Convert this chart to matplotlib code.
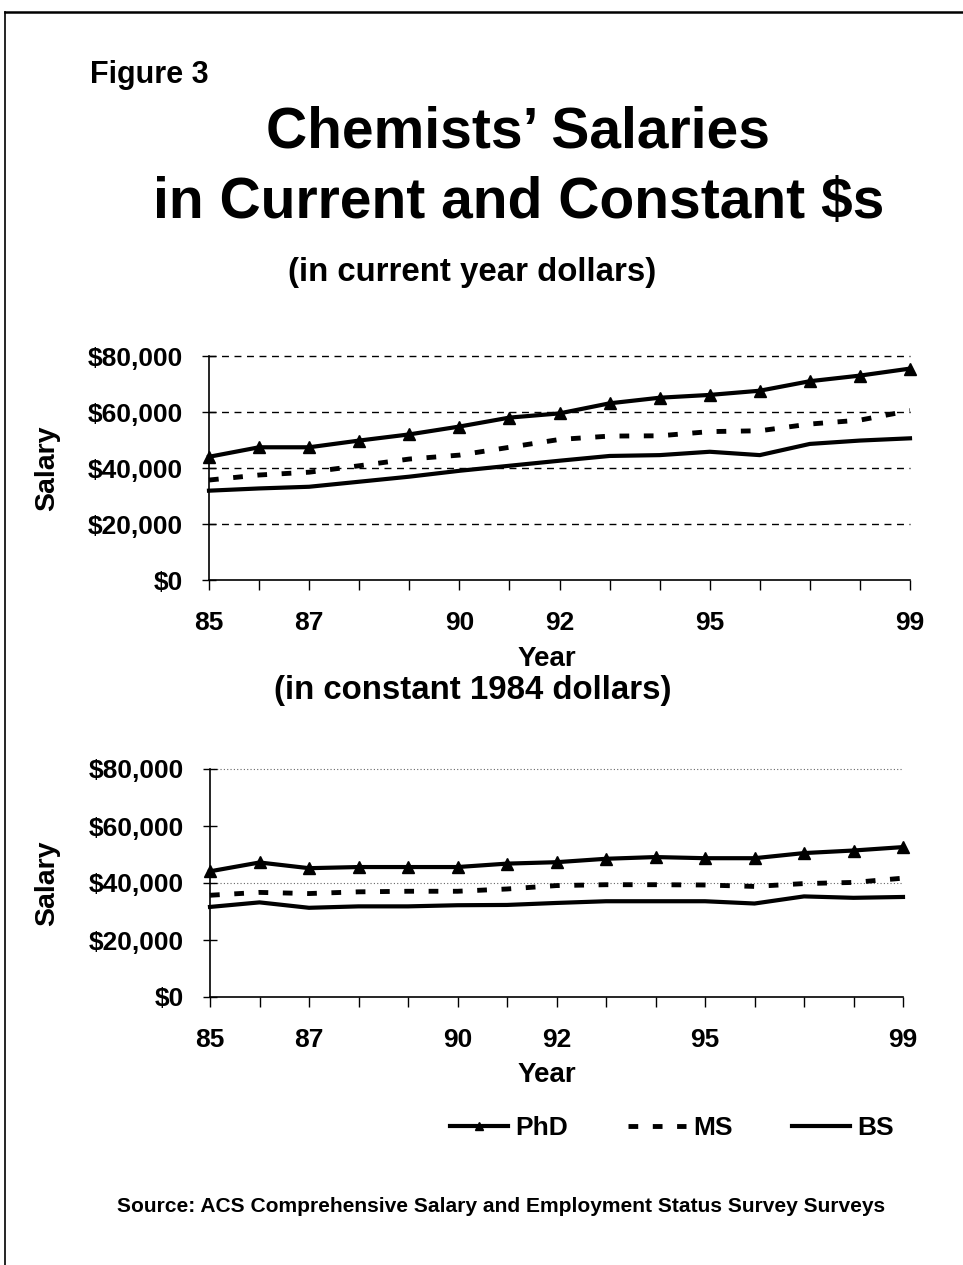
import matplotlib
matplotlib.use("Agg")
import matplotlib.pyplot as plt
from matplotlib.lines import Line2D

plt.rcParams['font.family'] = ['Liberation Sans', 'DejaVu Sans']
plt.rcParams['font.weight'] = 'bold'

years = [85, 86, 87, 88, 89, 90, 91, 92, 93, 94, 95, 96, 97, 98, 99]
year_label_pos = [85, 87, 90, 92, 95, 99]

# current year dollars
phd_current = [44000, 47400, 47400, 49800, 52000, 54800, 58000, 59500, 63100, 65100, 66100, 67600, 71000, 73000, 75500]
ms_current = [35700, 37500, 38500, 40800, 43200, 44600, 47400, 50200, 51400, 51500, 53000, 53300, 55700, 57100, 60500]
bs_current = [31900, 32700, 33300, 35100, 36900, 39000, 40800, 42600, 44300, 44600, 45800, 44600, 48600, 49800, 50600]

# constant 1984 dollars
phd_constant = [44100, 47200, 45200, 45600, 45600, 45600, 46800, 47300, 48500, 49100, 48700, 48700, 50500, 51400, 52600]
ms_constant = [35700, 36700, 36300, 36900, 37100, 37100, 37900, 39100, 39400, 39400, 39300, 38800, 39800, 40200, 41700]
bs_constant = [31600, 33200, 31300, 31800, 31800, 32200, 32300, 33000, 33600, 33600, 33600, 32800, 35300, 34800, 35100]

y_ticks = [0, 20000, 40000, 60000, 80000]
y_tick_labels = ['$0', '$20,000', '$40,000', '$60,000', '$80,000']

W, H = 963, 1265
fig = plt.figure(figsize=(W / 100, H / 100), dpi=100)
fig.patch.set_facecolor('white')

# page border (top and left)
fig.add_artist(Line2D([5 / W, 5 / W], [0, 1 - 12 / H], color='black', lw=1.2, transform=fig.transFigure))
fig.add_artist(Line2D([5 / W, 1], [1 - 12 / H, 1 - 12 / H], color='black', lw=1.8, transform=fig.transFigure))

fig.text(90 / W, 1 - 75 / H, 'Figure 3', fontsize=22, fontweight='bold', va='center', ha='left')
fig.text(518 / W, 1 - 133 / H, 'Chemists\u2019 Salaries', fontsize=41, fontweight='bold', ha='center', va='center')
fig.text(519 / W, 1 - 203 / H, 'in Current and Constant $s', fontsize=41, fontweight='bold', ha='center', va='center')
fig.text(472 / W, 1 - 272 / H, '(in current year dollars)', fontsize=23.8, fontweight='bold', ha='center', va='center')
fig.text(473 / W, 1 - 690 / H, '(in constant 1984 dollars)', fontsize=23.8, fontweight='bold', ha='center', va='center')


def make_panel(rect, phd, ms, bs, grid_vals, grid_style, ycenter, year_y):
    ax = fig.add_axes(rect)
    ax.set_xlim(85, 99)
    ax.set_ylim(0, 80000)
    for gv in grid_vals:
        if grid_style == 'dashed':
            ax.axhline(gv, color='black', lw=1.0, linestyle=(0, (5, 4)), zorder=1, clip_on=False)
        else:
            ax.axhline(gv, color='#666666', lw=0.8, linestyle=(0, (1, 2)), zorder=1, clip_on=False)
    ax.plot(years, phd, color='black', lw=3, marker='^', markersize=9, zorder=3, clip_on=False, label='PhD')
    ax.plot(years, ms, color='black', lw=3.5, linestyle=(0, (2, 3)), zorder=3, clip_on=False, label='MS')
    ax.plot(years, bs, color='black', lw=3, zorder=3, clip_on=False, label='BS')
    ax.spines['top'].set_visible(False)
    ax.spines['right'].set_visible(False)
    ax.spines['left'].set_linewidth(1.2)
    ax.spines['bottom'].set_linewidth(1.2)
    ax.set_xticks(years)
    ax.set_xticklabels([str(y) if y in year_label_pos else '' for y in years])
    ax.set_yticks(y_ticks)
    ax.set_yticklabels(y_tick_labels)
    ax.tick_params(axis='x', direction='out', length=7, width=1, pad=15, labelsize=19)
    ax.tick_params(axis='y', direction='inout', length=10, width=1, pad=14, labelsize=19)
    for lab in ax.get_xticklabels() + ax.get_yticklabels():
        lab.set_fontweight('bold')
    ax.set_facecolor('none')
    fig.text(47 / W, 1 - ycenter / H, 'Salary', fontsize=20.5, fontweight='bold',
             rotation=90, ha='center', va='center')
    fig.text(547 / W, 1 - year_y / H, 'Year', fontsize=20, fontweight='bold', ha='center', va='center')
    return ax


ax1 = make_panel([209 / W, 1 - 580 / H, (910 - 209) / W, (580 - 356) / H],
                 phd_current, ms_current, bs_current, [20000, 40000, 60000, 80000], 'dashed', 468, 659)
ax2 = make_panel([210 / W, 1 - 997 / H, (903 - 210) / W, (997 - 769) / H],
                 phd_constant, ms_constant, bs_constant, [40000, 80000], 'dotted', 883, 1075)

handles, labels = ax2.get_legend_handles_labels()
fig.legend(handles, labels, loc='center', bbox_to_anchor=(672 / W, 1 - 1128 / H), ncol=3,
           frameon=False, handlelength=2.2, handletextpad=0.27, columnspacing=2.27,
           numpoints=1, markerscale=0.7, borderpad=0, prop={'weight': 'bold', 'size': 19})

fig.text(501 / W, 1 - 1207 / H, 'Source: ACS Comprehensive Salary and Employment Status Survey Surveys',
         fontsize=15.1, fontweight='bold', ha='center', va='center')

fig.savefig('out.png', dpi=100, facecolor='white')
